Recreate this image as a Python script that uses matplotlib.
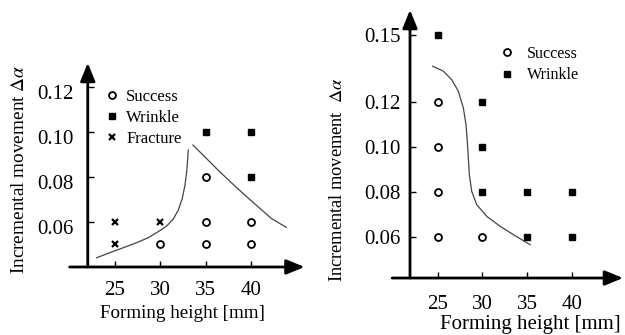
import numpy as np
import matplotlib
matplotlib.use("Agg")
import matplotlib.pyplot as plt
import matplotlib.transforms as mtrans

plt.rcParams['font.family'] = ['Liberation Serif', 'DejaVu Serif']
plt.rcParams['mathtext.fontset'] = 'stix'

# ---- dados (painel esquerdo) ----
left_success_x = [30, 35, 40, 35, 40, 35]
left_success_y = [0.05, 0.05, 0.05, 0.06, 0.06, 0.08]
left_wrinkle_x = [35, 40, 40]
left_wrinkle_y = [0.10, 0.10, 0.08]
left_fracture_x = [25, 25, 30]
left_fracture_y = [0.05, 0.06, 0.06]
# curvas de fronteira
left_curve1_x = [22.98, 24.26, 25.74, 27.21, 28.67, 29.77, 30.70, 31.43, 31.98,
                 32.42, 32.72, 32.91, 33.02, 33.08]
left_curve1_y = [0.0441, 0.0461, 0.0483, 0.0505, 0.0530, 0.0557, 0.0582, 0.0613, 0.0653,
                 0.0705, 0.0764, 0.0824, 0.0883, 0.0920]
left_curve2_x = [33.60, 34.89, 36.36, 37.82, 39.30, 40.77, 42.23, 43.89]
left_curve2_y = [0.0942, 0.0890, 0.0831, 0.0775, 0.0720, 0.0668, 0.0616, 0.0576]

# ---- dados (painel direito) ----
right_success_x = [25, 25, 25, 25, 30]
right_success_y = [0.06, 0.08, 0.10, 0.12, 0.06]
right_wrinkle_x = [25, 30, 30, 30, 35, 40, 35, 40]
right_wrinkle_y = [0.15, 0.12, 0.10, 0.08, 0.08, 0.08, 0.06, 0.06]
right_curve_x = [24.44, 25.63, 26.57, 27.31, 27.87, 28.17, 28.31, 28.43, 28.54, 28.81,
                 29.37, 30.49, 31.98, 33.47, 35.34]
right_curve_y = [0.1360, 0.1338, 0.1300, 0.1249, 0.1175, 0.1100, 0.1027, 0.0952, 0.0878, 0.0804,
                 0.0745, 0.0693, 0.0649, 0.0612, 0.0567]

x_ticks = [25, 30, 35, 40]
left_yticks = [0.06, 0.08, 0.10, 0.12]
right_yticks = [0.06, 0.08, 0.10, 0.12, 0.15]

W, H = 625, 335
fig = plt.figure(figsize=(W / 100, H / 100), dpi=100)


def px(x, y):
    return x / W, 1 - y / H


def setup(ax, x0, y0, xtip, ytip, yaxis_x, yticks, ylab_pad, ylab_shift, xlab_pad):
    for s in ax.spines.values():
        s.set_visible(False)
    ax.spines['left'].set_position(('data', yaxis_x))
    ax.spines['bottom'].set_position(('data', y0))
    arrow = dict(arrowstyle='-|>,head_length=1.1,head_width=0.45', lw=2,
                 color='black', mutation_scale=10, shrinkA=0, shrinkB=0)
    ax.annotate('', xy=(xtip, y0), xytext=(x0, y0), arrowprops=arrow)
    ax.annotate('', xy=(yaxis_x, ytip), xytext=(yaxis_x, y0), arrowprops=arrow)
    ax.set_xticks(x_ticks)
    ax.set_xticklabels([str(v) for v in x_ticks])
    ax.set_yticks(yticks)
    ax.set_yticklabels(['%.2f' % v for v in yticks])
    ax.tick_params(axis='both', direction='in', length=4, width=1, labelsize=15)
    ax.tick_params(axis='y', pad=ylab_pad)
    ax.tick_params(axis='x', pad=xlab_pad)
    off = mtrans.ScaledTranslation(0, -ylab_shift / 100, fig.dpi_scale_trans)
    for lab in ax.get_yticklabels():
        lab.set_transform(lab.get_transform() + off)


# ---- painel esquerdo ----
ax1 = fig.add_axes([60 / W, 1 - 275 / H, 250 / W, 220 / H])
ax1.set_xlim(18.94, 46.5)
ax1.set_ylim(0.03644, 0.13422)
setup(ax1, 20.0, 0.04, 45.9, 0.1307, 22.0, left_yticks, 10, 5, 10)
ax1.plot(left_curve1_x, left_curve1_y, color='#444444', lw=0.9)
ax1.plot(left_curve2_x, left_curve2_y, color='#444444', lw=0.9)
ax1.plot(left_success_x, left_success_y, 'o', mfc='white', mec='black', mew=1.3, ms=5, label='Success')
ax1.plot(left_wrinkle_x, left_wrinkle_y, 's', color='black', ms=5, label='Wrinkle')
ax1.plot(left_fracture_x, left_fracture_y, 'x', color='black', mew=1.6, ms=4.5, label='Fracture')
ax1.legend(loc='upper left', bbox_to_anchor=(0.156, 0.875), frameon=False, fontsize=12,
           handlelength=0.8, handletextpad=0.44, labelspacing=0.3, borderaxespad=0)
x, y = px(182, 313)
fig.text(x, y, 'Forming height [mm]', fontsize=13.7, ha='center', va='center')
x, y = px(20, 169)
fig.text(x, y, r'Incremental movement $\Delta\alpha$', fontsize=13.9, ha='center', va='center', rotation=90)

# ---- painel direito ----
ax2 = fig.add_axes([385 / W, 1 - 285 / H, 240 / W, 280 / H])
ax2.set_xlim(19.1, 45.97)
ax2.set_ylim(0.0388, 0.1632)
setup(ax2, 19.9, 0.0419, 45.75, 0.161, 21.9, right_yticks, 7, 0, 12)
ax2.plot(right_curve_x, right_curve_y, color='#444444', lw=0.9)
ax2.plot(right_success_x, right_success_y, 'o', mfc='white', mec='black', mew=1.3, ms=5, label='Success')
ax2.plot(right_wrinkle_x, right_wrinkle_y, 's', color='black', ms=5, label='Wrinkle')
ax2.legend(loc='upper left', bbox_to_anchor=(0.453, 0.877), frameon=False, fontsize=11.6,
           handlelength=0.8, handletextpad=0.85, labelspacing=0.33, borderaxespad=0)
x, y = px(530, 324)
fig.text(x, y, 'Forming height [mm]', fontsize=15, ha='center', va='center')
x, y = px(338, 180)
fig.text(x, y, r'Incremental movement  $\Delta\alpha$', fontsize=13.2, ha='center', va='center', rotation=90)

fig.savefig('out.png', dpi=100)
